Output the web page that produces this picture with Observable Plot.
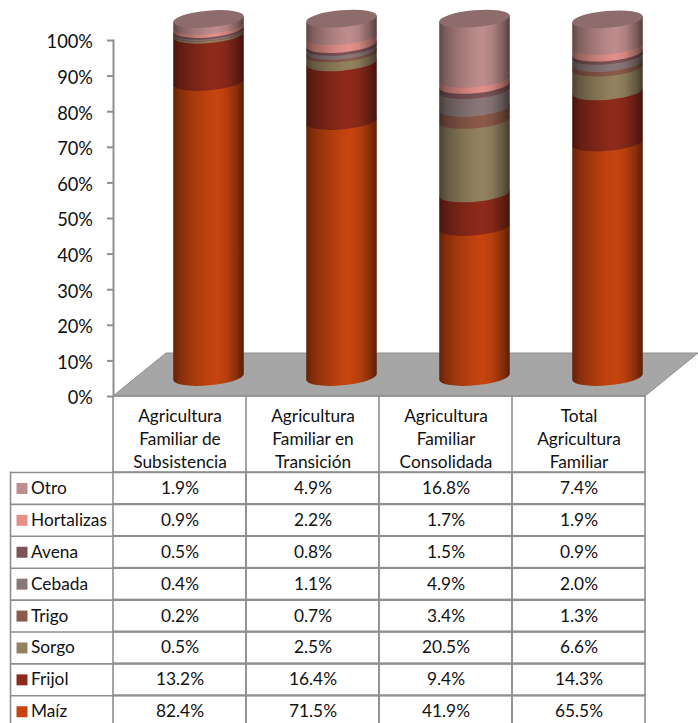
<!DOCTYPE html>
<html>
<head>
<meta charset="utf-8">
<script src="https://cdn.jsdelivr.net/npm/d3@7"></script>
<script src="https://cdn.jsdelivr.net/npm/@observablehq/plot@0.6"></script>
<style>
html,body{margin:0;padding:0;background:#fff;overflow:hidden}
svg{display:block}
</style>
</head>
<body>
<div id="chart"></div>
<script>
const columns = ["Agricultura\nFamiliar de\nSubsistencia","Agricultura\nFamiliar en\nTransición","Agricultura\nFamiliar\nConsolidada","Total\nAgricultura\nFamiliar"];
const crops = ["Maíz","Frijol","Sorgo","Trigo","Cebada","Avena","Hortalizas","Otro"];
const maiz = [82.4,71.5,41.9,65.5];
const frijol = [13.2,16.4,9.4,14.3];
const sorgo = [0.5,2.5,20.5,6.6];
const trigo = [0.2,0.7,3.4,1.3];
const cebada = [0.4,1.1,4.9,2.0];
const avena = [0.5,0.8,1.5,0.9];
const hortalizas = [0.9,2.2,1.7,1.9];
const otro = [1.9,4.9,16.8,7.4];
const series = [maiz,frijol,sorgo,trigo,cebada,avena,hortalizas,otro];
const palette = ["#c6440f","#8e2a1b","#93825f","#8c5a4a","#8a7879","#7b5457","#e39088","#be8c8c"];
const capColor = "#8e6c6b";
const yTicks = [0,10,20,30,40,50,60,70,80,90,100];

const rows = crops.flatMap((crop,i)=>columns.map((col,j)=>({crop,col,value:series[i][j]})));

const gray = "#8f8f8f";
const font = "Lato";
const DEPTH_X = 29, BASE_RISE = 19, Y_STRETCH = 358/356;
const FLOOR_RISE = 43, FLOOR_SHIFT = 53;
const RX = 35.4, RY = 8.4, TILT = 5;

function shade(color,k){const c=d3.rgb(color);return d3.rgb(c.r*k,c.g*k,c.b*k).formatHex();}
const stops = [[0,.5],[.1,.68],[.3,.85],[.5,.97],[.62,1],[.75,.92],[.9,.68],[1,.45]];

function cylinders(index,scales,values,dimensions){
  const g = d3.create("svg:g");
  const defs = g.append("defs");
  const ids = new Map();
  const sx = scales.x;
  const bw = typeof sx.bandwidth==="function"?sx.bandwidth():sx.bandwidth;
  const y0 = scales.y(0);
  const py = v => y0 - BASE_RISE - (y0 - v)*Y_STRETCH;
  const dx = RX*Math.cos(TILT*Math.PI/180), dy = RX*Math.sin(TILT*Math.PI/180);
  const tops = new Map();
  for (const i of index){
    const c = values.fill[i];
    if(!ids.has(c)){
      const id="grad"+ids.size; ids.set(c,id);
      const lg=defs.append("linearGradient").attr("id",id);
      for(const [o,k] of stops) lg.append("stop").attr("offset",o).attr("stop-color",shade(c,k));
    }
    const cx = values.x[i]+bw/2+DEPTH_X;
    const a = py(Math.max(values.y1[i],values.y2[i]));
    const b = py(Math.min(values.y1[i],values.y2[i]));
    g.append("path")
      .attr("d",`M${cx-dx},${a+dy}A${RX},${RY} ${-TILT} 0 0 ${cx+dx},${a-dy}L${cx+dx},${b-dy}L${cx-dx},${b+dy}Z`)
      .attr("fill",`url(#${ids.get(c)})`);
    tops.set(cx,b);
  }
  for(const [cx,b] of tops){
    g.append("ellipse").attr("rx",RX).attr("ry",RY).attr("fill",capColor)
      .attr("transform",`translate(${cx},${b}) rotate(${-TILT})`);
  }
  return g.node();
}

function floorAndHeader(index,scales,values,dimensions){
  const g = d3.create("svg:g");
  const y0 = scales.y(0);
  const L = dimensions.marginLeft, R = dimensions.width-dimensions.marginRight;
  g.append("path")
    .attr("d",`M${L},${y0}L${L+FLOOR_SHIFT},${y0-FLOOR_RISE}L${R+FLOOR_SHIFT},${y0-FLOOR_RISE}L${R},${y0}Z`)
    .attr("fill","#a6a6a6").attr("stroke",gray);
  const step=(R-L)/columns.length;
  for(let k=0;k<=columns.length;k++){
    g.append("line").attr("x1",L+k*step).attr("x2",L+k*step).attr("y1",y0).attr("y2",dimensions.height)
      .attr("stroke",gray).attr("stroke-width",1.6);
  }
  g.append("line").attr("x1",L).attr("x2",R).attr("y1",y0).attr("y2",y0).attr("stroke",gray).attr("stroke-width",1.6);
  return g.node();
}

const chart = Plot.plot({
  width:698,height:472,marginLeft:113,marginRight:53,marginTop:40,marginBottom:76,
  style:{fontFamily:font,background:"transparent",overflow:"visible"},
  x:{domain:columns,paddingInner:.47,paddingOuter:.235,round:false,label:null},
  y:{domain:[0,100],label:null},
  color:{domain:crops,range:palette},
  marks:[
    floorAndHeader,
    Plot.frame({anchor:"left",stroke:gray,strokeWidth:2}),
    Plot.axisY({ticks:yTicks,tickFormat:()=>"",tickSize:6,stroke:gray,strokeWidth:2,label:null}),
    Plot.axisY({ticks:yTicks,tickFormat:d=>d+"%",tickSize:0,tickPadding:20.5,dy:2,fontSize:18.3,fill:"#111",label:null}),
    Plot.axisX({tickSize:0,tickPadding:9,fontSize:17.3,lineHeight:1.33,fill:"#111",label:null}),
    Plot.barY(rows,Plot.stackY({x:"col",y:"value",fill:"crop",order:null,render:cylinders}))
  ]
});

const table = Plot.plot({
  width:698,height:251,marginLeft:10,marginRight:53,marginTop:0,marginBottom:0,
  style:{fontFamily:font,background:"transparent",overflow:"visible"},
  x:{domain:columns,range:[113,645],padding:0,round:false,axis:null},
  y:{domain:crops.slice().reverse(),range:[0,255.2],padding:0,round:false,axis:null},
  color:{domain:crops,range:palette},
  marks:[
    Plot.frame({anchor:"left",stroke:gray,strokeWidth:1.6}),
    Plot.tickY(crops,{y:d=>d,dy:-15.95,stroke:gray,strokeWidth:1.6}),
    Plot.cell(rows,{x:"col",y:"crop",fill:"none",stroke:gray,strokeWidth:1.6}),
    Plot.text(rows,{x:"col",y:"crop",text:d=>d.value.toFixed(1)+"%",fontSize:17.3,fill:"#111"}),
    Plot.text(crops,{y:d=>d,text:d=>d,frameAnchor:"left",textAnchor:"start",dx:20.5,fontSize:17.3,fill:"#111"}),
    Plot.dot(crops,{y:d=>d,frameAnchor:"left",dx:11.5,symbol:"square",r:6.2,fill:d=>d})
  ]
});
document.getElementById("chart").append(chart,table);
</script>
</body>
</html>
